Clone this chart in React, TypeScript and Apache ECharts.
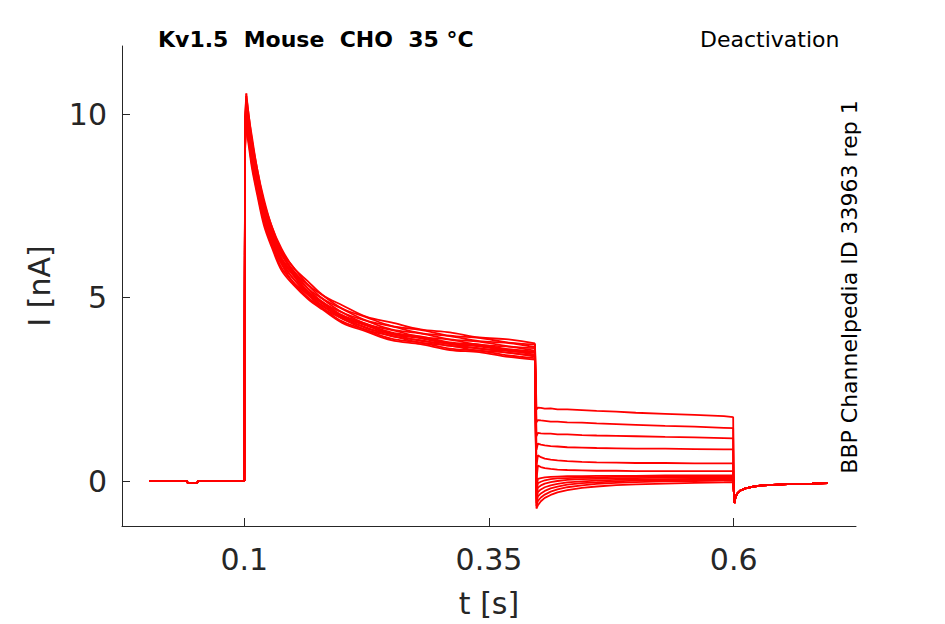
import React, { useEffect, useRef } from "react";
import * as echarts from "echarts";

// ---- Data ----
const xTicks = [0.1, 0.35, 0.6];
const yTicks = [0, 5, 10];

// pre-pulse baseline (shared by every sweep)
const preT = [0.003, 0.0414, 0.042, 0.052, 0.0526, 0.1];
const preI = [0, 0, -0.05, -0.05, 0, 0];

// activation segment
const actT = [0.1008, 0.102, 0.105, 0.108, 0.113, 0.12, 0.128, 0.138, 0.15, 0.165, 0.18, 0.2, 0.225, 0.25, 0.28, 0.31, 0.34, 0.37, 0.397];
const act1 = [9.92, 10.56, 9.86, 9.34, 8.52, 7.68, 6.94, 6.33, 5.82, 5.44, 5.07, 4.79, 4.47, 4.32, 4.13, 4.05, 3.91, 3.86, 3.75];
const act2 = [9.87, 10.49, 9.86, 9.25, 8.52, 7.6, 6.94, 6.26, 5.83, 5.35, 5.06, 4.7, 4.46, 4.23, 4.12, 3.96, 3.9, 3.77, 3.72];
const act3 = [9.8, 10.38, 9.72, 9.2, 8.4, 7.57, 6.83, 6.24, 5.73, 5.34, 4.97, 4.69, 4.37, 4.22, 4.03, 3.95, 3.81, 3.76, 3.65];
const act4 = [9.72, 10.33, 9.71, 9.12, 8.39, 7.49, 6.84, 6.17, 5.74, 5.25, 4.96, 4.6, 4.36, 4.13, 4.02, 3.86, 3.8, 3.67, 3.62];
const act5 = [9.68, 10.28, 9.63, 9.11, 8.31, 7.49, 6.77, 6.18, 5.68, 5.24, 4.87, 4.59, 4.27, 4.12, 3.93, 3.85, 3.71, 3.66, 3.55];
const act6 = [9.62, 10.2, 9.57, 8.98, 8.27, 7.38, 6.74, 6.08, 5.66, 5.17, 4.88, 4.52, 4.28, 4.05, 3.94, 3.78, 3.72, 3.59, 3.53];
const act7 = [9.57, 10.13, 9.52, 8.94, 8.23, 7.34, 6.71, 6.05, 5.63, 5.14, 4.85, 4.49, 4.25, 4.02, 3.91, 3.75, 3.69, 3.56, 3.51];
const act8 = [9.48, 10.08, 9.47, 8.89, 8.19, 7.31, 6.67, 6.02, 5.6, 5.12, 4.83, 4.47, 4.23, 4.0, 3.89, 3.73, 3.67, 3.54, 3.49];
const act9 = [9.43, 9.98, 9.34, 8.84, 8.07, 7.27, 6.57, 6.0, 5.51, 5.13, 4.76, 4.48, 4.16, 4.01, 3.82, 3.74, 3.6, 3.55, 3.44];
const act10 = [9.34, 9.93, 9.33, 8.76, 8.06, 7.2, 6.57, 5.93, 5.52, 5.07, 4.78, 4.42, 4.18, 3.95, 3.84, 3.68, 3.62, 3.49, 3.42];
const act11 = [9.28, 9.82, 9.2, 8.71, 7.94, 7.16, 6.46, 5.91, 5.42, 5.08, 4.71, 4.43, 4.11, 3.96, 3.77, 3.69, 3.55, 3.5, 3.39];
const act12 = [9.15, 9.72, 9.14, 8.58, 7.9, 7.05, 6.44, 5.81, 5.41, 5.0, 4.71, 4.35, 4.11, 3.88, 3.77, 3.61, 3.55, 3.42, 3.35];
const act13 = [9.05, 9.62, 9.04, 8.49, 7.82, 6.97, 6.37, 5.74, 5.35, 4.96, 4.67, 4.31, 4.07, 3.84, 3.73, 3.57, 3.51, 3.38, 3.31];

// deactivation (tail) segment
const deT = [0.3985, 0.4, 0.403, 0.407, 0.413, 0.42, 0.43, 0.445, 0.46, 0.48, 0.5, 0.53, 0.56, 0.59, 0.5995];
const de1 = [1.95, 2.0, 1.99, 1.97, 1.98, 1.95, 1.95, 1.93, 1.91, 1.89, 1.86, 1.83, 1.8, 1.77, 1.74];
const de2 = [1.6, 1.66, 1.65, 1.64, 1.62, 1.62, 1.6, 1.59, 1.57, 1.55, 1.53, 1.5, 1.48, 1.45, 1.44];
const de3 = [1.22, 1.31, 1.3, 1.29, 1.29, 1.27, 1.27, 1.25, 1.24, 1.23, 1.22, 1.2, 1.19, 1.17, 1.16];
const de4 = [0.85, 1.02, 0.99, 0.97, 0.95, 0.94, 0.92, 0.91, 0.9, 0.89, 0.88, 0.88, 0.87, 0.86, 0.86];
const de5 = [0.42, 0.7, 0.65, 0.61, 0.58, 0.56, 0.54, 0.52, 0.51, 0.5, 0.49, 0.49, 0.48, 0.48, 0.48];
const de6 = [0.05, 0.42, 0.38, 0.35, 0.33, 0.31, 0.3, 0.29, 0.28, 0.28, 0.27, 0.27, 0.27, 0.27, 0.27];
const de7 = [-0.2, 0.06, 0.08, 0.1, 0.11, 0.12, 0.13, 0.13, 0.14, 0.14, 0.14, 0.15, 0.15, 0.15, 0.15];
const de8 = [-0.3, -0.06, -0.02, 0.02, 0.05, 0.07, 0.08, 0.09, 0.1, 0.11, 0.11, 0.12, 0.12, 0.12, 0.12];
const de9 = [-0.4, -0.18, -0.12, -0.07, -0.03, 0.0, 0.03, 0.05, 0.06, 0.07, 0.08, 0.09, 0.09, 0.1, 0.1];
const de10 = [-0.5, -0.3, -0.23, -0.17, -0.12, -0.08, -0.04, -0.01, 0.01, 0.03, 0.04, 0.05, 0.06, 0.07, 0.07];
const de11 = [-0.6, -0.42, -0.34, -0.27, -0.2, -0.15, -0.1, -0.06, -0.04, -0.01, 0.01, 0.02, 0.03, 0.04, 0.04];
const de12 = [-0.68, -0.54, -0.45, -0.37, -0.29, -0.23, -0.17, -0.12, -0.08, -0.05, -0.03, -0.01, 0.0, 0.01, 0.01];
const de13 = [-0.75, -0.66, -0.55, -0.46, -0.38, -0.31, -0.25, -0.19, -0.15, -0.11, -0.09, -0.07, -0.05, -0.04, -0.03];

// post-pulse segment (shared)
const postT = [0.6, 0.6008, 0.602, 0.604, 0.607, 0.612, 0.62, 0.63, 0.645, 0.66, 0.68, 0.696];
const postI = [-0.2, -0.6, -0.42, -0.33, -0.26, -0.2, -0.15, -0.12, -0.1, -0.08, -0.07, -0.06];

const actSweeps = [act1, act2, act3, act4, act5, act6, act7, act8, act9, act10, act11, act12, act13];
const deSweeps = [de1, de2, de3, de4, de5, de6, de7, de8, de9, de10, de11, de12, de13];

const FONT = "DejaVu Sans";
const INK = "#262626";
const RED = "#ff0000";

function pairs(t: number[], v: number[]) {
  return t.map((x, i) => [x, v[i]]);
}

function lineSeries(name: string, data: number[][], smooth: number | boolean) {
  return {
    type: "line",
    name,
    showSymbol: false,
    symbol: "none",
    silent: true,
    smooth,
    lineStyle: { color: RED, width: 1.8 },
    data,
  };
}

export default function App() {
  const ref = useRef<HTMLDivElement>(null);
  useEffect(() => {
    if (!ref.current) return;
    const chart = echarts.init(ref.current, null, { renderer: "svg" });
    const series: any[] = [];
    actSweeps.forEach((a, k) => {
      const actPts = pairs(actT, a);
      // baseline + rise to the peak
      series.push(lineSeries("sweep " + (k + 1) + " rise", [...pairs(preT, preI), actPts[0], actPts[1]], false));
      // inactivating decay (smooth)
      series.push(lineSeries("sweep " + (k + 1) + " decay", actPts.slice(1), 0.35));
      // step to tail, deactivation and return
      series.push(
        lineSeries(
          "sweep " + (k + 1) + " tail",
          [actPts[actPts.length - 1], ...pairs(deT, deSweeps[k]), ...pairs(postT, postI)],
          false
        )
      );
    });
    chart.setOption({
      animation: false,
      backgroundColor: "#ffffff",
      grid: { left: 122, right: 89, top: 46, bottom: 98, containLabel: false },
      xAxis: {
        type: "value",
        min: -0.025,
        max: 0.725,
        name: "t [s]",
        nameLocation: "middle",
        nameGap: 62,
        nameTextStyle: { fontFamily: FONT, fontSize: 30, color: INK },
        axisLine: { show: true, onZero: false, lineStyle: { color: INK, width: 1 } },
        axisTick: { show: true, inside: true, length: 8, customValues: xTicks, lineStyle: { color: INK } },
        axisLabel: { show: true, customValues: xTicks, margin: 18, fontFamily: FONT, fontSize: 30, color: INK },
        splitLine: { show: false },
      },
      yAxis: {
        type: "value",
        min: -1.226,
        max: 11.853,
        name: "I [nA]",
        nameLocation: "middle",
        nameGap: 68,
        nameTextStyle: { fontFamily: FONT, fontSize: 30, color: INK },
        axisLine: { show: true, onZero: false, lineStyle: { color: INK, width: 1 } },
        axisTick: { show: true, inside: true, length: 8, customValues: yTicks, lineStyle: { color: INK } },
        axisLabel: { show: true, customValues: yTicks, margin: 15, fontFamily: FONT, fontSize: 30, color: INK },
        splitLine: { show: false },
      },
      graphic: [
        {
          type: "text",
          x: 158,
          y: 39,
          style: {
            text: "Kv1.5  Mouse  CHO  35 °C",
            fontFamily: FONT,
            fontSize: 22,
            fontWeight: "bold",
            fill: "#000000",
            textAlign: "left",
            textVerticalAlign: "middle",
          },
        },
        {
          type: "text",
          x: 700,
          y: 39,
          style: {
            text: "Deactivation",
            fontFamily: FONT,
            fontSize: 22,
            fill: "#000000",
            textAlign: "left",
            textVerticalAlign: "middle",
          },
        },
        {
          type: "text",
          x: 849,
          y: 287,
          rotation: Math.PI / 2,
          style: {
            text: "BBP Channelpedia ID 33963 rep 1",
            fontFamily: FONT,
            fontSize: 22,
            fill: "#000000",
            textAlign: "center",
            textVerticalAlign: "middle",
          },
        },
      ],
      series,
    });
    return () => chart.dispose();
  }, []);
  return (
    <div
      ref={ref}
      style={{ position: "fixed", left: 0, top: 0, width: 945, height: 624, background: "#fff" }}
    />
  );
}
